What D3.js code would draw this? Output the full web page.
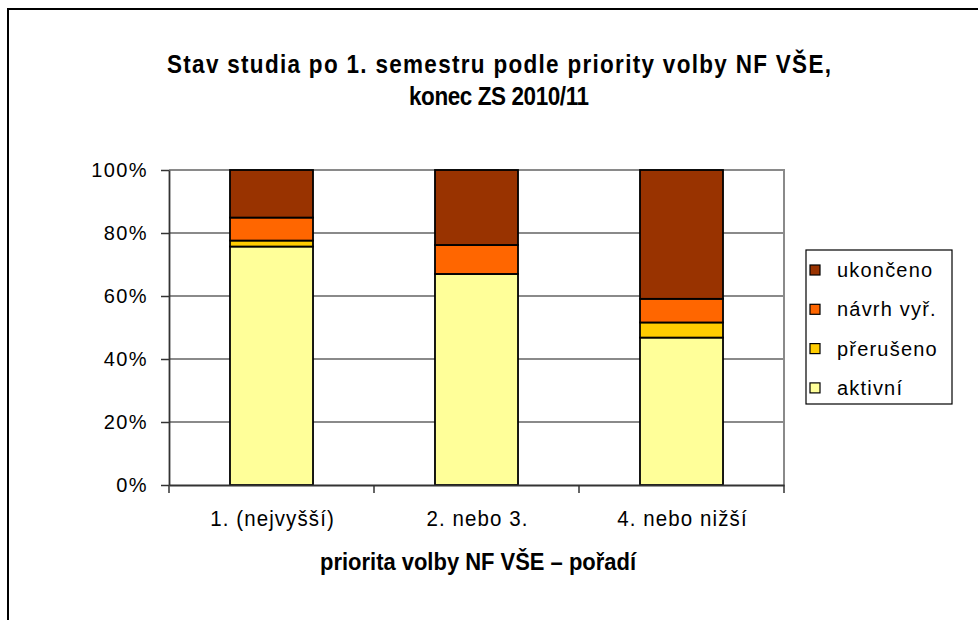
<!DOCTYPE html>
<html><head><meta charset="utf-8">
<script src="https://cdn.jsdelivr.net/npm/d3@7"></script>
<style>body{margin:0;background:#fff}svg{display:block}text{font-family:Arial,"Liberation Sans",sans-serif}</style>
</head><body>
<svg id="c" width="978" height="620"></svg>
<script>
const categories = ["1. (nejvyšší)", "2. nebo 3.", "4. nebo nižší"];
const seriesNames = ["aktivní", "přerušeno", "návrh vyř.", "ukončeno"];
const aktivni = [75.7, 67.0, 46.8];
const preruseno = [1.9, 0.0, 4.8];
const navrh = [7.3, 9.2, 7.5];
const ukonceno = [15.1, 23.8, 40.9];
const yTicks = [0, 20, 40, 60, 80, 100];
const titleLines = ["Stav studia po 1. semestru podle priority volby NF VŠE,", "konec ZS 2010/11"];
const xTitle = "priorita volby NF VŠE – pořadí";
const colors = ["#FFFF99", "#FFCC00", "#FF6600", "#993300"];

const FF = "Arial, Liberation Sans, sans-serif";
const rows = categories.map((c, i) => ({cat: c, "aktivní": aktivni[i], "přerušeno": preruseno[i], "návrh vyř.": navrh[i], "ukončeno": ukonceno[i]}));
const svg = d3.select("#c");

// outer frame
svg.append("rect").attr("x", 8).attr("y", 9).attr("width", 1000).attr("height", 700)
  .attr("fill", "none").attr("stroke", "#000").attr("stroke-width", 2);

const L = 169, R = 784, T = 170, B = 485;
const x = d3.scaleBand().domain(categories).range([L, R]).paddingInner(0.595).paddingOuter(0.2975);
const y = d3.scaleLinear().domain([0, 100]).range([B, T]);

// gridlines
svg.append("g").selectAll("line").data(yTicks.filter(t => t > 0)).join("line")
  .attr("x1", L).attr("x2", R).attr("y1", d => y(d)).attr("y2", d => y(d))
  .attr("stroke", "#8a8a8a").attr("stroke-width", 2);
svg.append("line").attr("x1", R).attr("x2", R).attr("y1", T - 1).attr("y2", B)
  .attr("stroke", "#8a8a8a").attr("stroke-width", 2);

// bars
const stack = d3.stack().keys(seriesNames)(rows);
svg.append("g").selectAll("g").data(stack).join("g")
  .attr("fill", (d, i) => colors[i])
  .selectAll("rect").data(d => d).join("rect")
  .attr("x", d => x(d.data.cat)).attr("width", x.bandwidth())
  .attr("y", d => y(d[1])).attr("height", d => y(d[0]) - y(d[1]))
  .attr("stroke", "#000").attr("stroke-width", 1.8);

// y axis
const ya = svg.append("g").attr("transform", `translate(${L},0)`)
  .call(d3.axisLeft(y).tickValues(yTicks).tickFormat(d => d + "%").tickSize(8).tickSizeOuter(0));
ya.select(".domain").attr("stroke", "#333").attr("stroke-width", 1.8);
ya.selectAll(".tick line").attr("stroke", "#333").attr("stroke-width", 1.5);
ya.selectAll(".tick text").attr("x", -21).attr("font-size", 20).attr("fill", "#000")
  .attr("letter-spacing", 1.4).attr("font-family", FF);

// x axis
const xa = svg.append("g").attr("transform", `translate(0,${B})`)
  .call(d3.axisBottom(x).tickSize(0).tickSizeOuter(0).tickFormat(() => ""));
xa.select(".domain").attr("stroke", "#333").attr("stroke-width", 1.8);
const bounds = [L].concat(categories.map(c => x(c) + x.bandwidth() / 2 + x.step() / 2));
svg.append("g").selectAll("line").data(bounds).join("line")
  .attr("x1", d => d).attr("x2", d => d).attr("y1", B).attr("y2", B + 8)
  .attr("stroke", "#333").attr("stroke-width", 1.5);
svg.append("g").selectAll("g").data(categories).join("g")
  .attr("transform", d => `translate(${x(d) + x.bandwidth() / 2 + 1},526) scale(1,1.12)`)
  .append("text").attr("text-anchor", "middle").attr("font-size", 20.5).attr("font-family", FF)
  .attr("letter-spacing", 1.1).text(d => d);

// title
const titleW = [664, 180];
svg.append("g").selectAll("g").data(titleLines).join("g")
  .attr("transform", (d, i) => `translate(499,${73 + i * 32}) scale(1,1.12)`)
  .append("text").attr("text-anchor", "middle").attr("font-size", 22.5).attr("font-weight", "bold")
  .attr("font-family", FF)
  .attr("textLength", (d, i) => titleW[i]).attr("lengthAdjust", "spacing")
  .text(d => d);

// axis title
svg.append("g").attr("transform", `translate(478,570) scale(1,1.12)`)
  .append("text").attr("text-anchor", "middle").attr("font-size", 21).attr("font-weight", "bold")
  .attr("font-family", FF).attr("textLength", 316).attr("lengthAdjust", "spacingAndGlyphs")
  .text(xTitle);

// legend
const lg = svg.append("g");
lg.append("rect").attr("x", 806).attr("y", 250).attr("width", 146).attr("height", 154)
  .attr("fill", "#fff").attr("stroke", "#000").attr("stroke-width", 1.2);
const legItems = seriesNames.map((n, i) => ({n, c: colors[i]})).reverse();
const li = lg.selectAll("g").data(legItems).join("g")
  .attr("transform", (d, i) => `translate(810,${277 + i * 39.3})`);
li.append("rect").attr("x", 0).attr("y", -12).attr("width", 10).attr("height", 10)
  .attr("fill", d => d.c).attr("stroke", "#000").attr("stroke-width", 1.2);
li.append("text").attr("x", 27).attr("y", 0).attr("font-size", 20).attr("letter-spacing", 1.2)
  .attr("font-family", FF).text(d => d.n);
</script>
</body></html>
